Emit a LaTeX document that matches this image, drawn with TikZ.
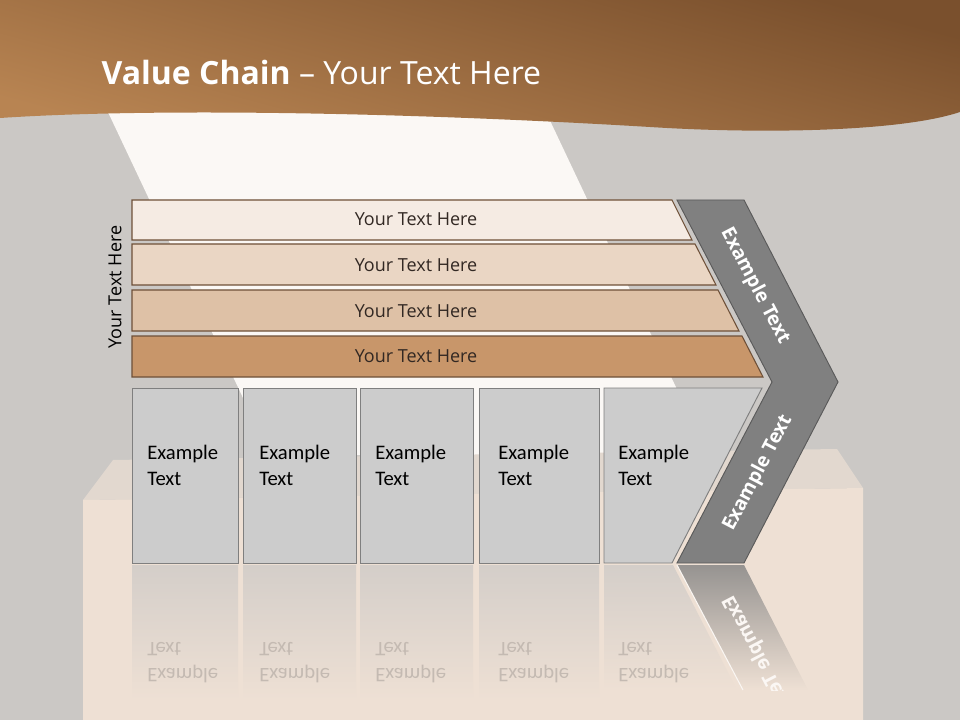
\documentclass[tikz,border=0pt]{standalone}
\usepackage{fontspec}
\setmainfont{Open Sans}
\newfontfamily\calibrifont{Carlito}
\usepackage{tikz}
\usepackage{xcolor}
\definecolor{slidegray}{RGB}{203, 200, 197}
\definecolor{beamwhite}{RGB}{251, 248, 245}
\definecolor{boxfront}{RGB}{238, 224, 212}
\definecolor{boxtop}{RGB}{226, 216, 207}
\definecolor{banddark}{RGB}{122, 80, 45}
\definecolor{bandlight}{RGB}{184, 132, 82}
\definecolor{barone}{RGB}{245, 235, 227}
\definecolor{bartwo}{RGB}{234, 214, 196}
\definecolor{barthree}{RGB}{222, 193, 166}
\definecolor{barfour}{RGB}{200, 150, 106}
\definecolor{barline}{RGB}{110, 80, 56}
\definecolor{bartextcol}{RGB}{50, 40, 35}
\definecolor{cellfill}{RGB}{204, 204, 204}
\definecolor{cellline}{RGB}{127, 127, 127}
\definecolor{chevfill}{RGB}{128, 128, 128}
\definecolor{chevline}{RGB}{90, 90, 90}
\definecolor{mirrortext}{RGB}{196, 186, 178}
\definecolor{mirrortop}{RGB}{212, 206, 201}
\usetikzlibrary{positioning}

\begin{document}
\begin{tikzpicture}[x=0.75pt, y=-0.75pt,
    bar/.style={draw=barline, line width=0.8pt},
    bartext/.style={font=\fontsize{13.5}{16}\selectfont, text=bartextcol},
    cell/.style={draw=cellline, fill=cellfill, line width=0.7pt},
    celltext/.style={font=\calibrifont\fontsize{15.5}{19.5}\selectfont, align=left, anchor=west, inner sep=0pt},
    mirrorcell/.style={top color=mirrortop, bottom color=boxfront},
    mirrorlabel/.style={font=\calibrifont\fontsize{15.5}{19.5}\selectfont, text=mirrortext, anchor=west, inner sep=0pt},
    chevtext/.style={font=\bfseries\fontsize{14.5}{17}\selectfont, text=white, inner sep=0pt}]
    \useasboundingbox (0, 0) rectangle (960, 720);

    % Backdrop: gray wall, light beam and box
    \fill[slidegray] (0, 0) rectangle (960, 720);
    \fill[beamwhite] (107, 110) -- (545, 110) -- (708, 455) -- (270, 455) -- cycle;
    \fill[boxtop] (83, 500) -- (113, 460) -- (837, 449) -- (863, 488) -- cycle;
    \fill[boxfront] (83, 500) -- (863, 488) -- (863, 720) -- (83, 720) -- cycle;

    % Title band
    \shade[top color=banddark, bottom color=bandlight, shading angle=-15]
        (0, 0) -- (960, 0) -- (960, 112)
        .. controls (900, 132) and (760, 134) .. (650, 127)
        .. controls (400, 112) and (150, 108) .. (0, 118) -- cycle;
    \node[anchor=base west, text=white, font=\fontsize{24}{28}\selectfont] (title) at (97, 85)
        {\textbf{Value Chain} – Your Text Here};

    % Bars
    \draw[bar, fill=barone] (132, 200) -- (672, 200) -- (692, 240) -- (132, 240) -- cycle;
    \draw[bar, fill=bartwo] (132, 244) -- (695, 244) -- (716, 285) -- (132, 285) -- cycle;
    \draw[bar, fill=barthree] (132, 290) -- (718, 290) -- (739, 331) -- (132, 331) -- cycle;
    \draw[bar, fill=barfour] (132, 336) -- (742, 336) -- (763, 377) -- (132, 377) -- cycle;
    \node[bartext] (barA) at (416, 219) {Your Text Here};
    \node[bartext] (barB) at (416, 265) {Your Text Here};
    \node[bartext] (barC) at (416, 311) {Your Text Here};
    \node[bartext] (barD) at (416, 356) {Your Text Here};
    \node[bartext, text=black, rotate=90] (sidelabel) at (115, 287) {Your Text Here};

    % Chevron
    \draw[fill=chevfill, draw=chevline, line width=0.7pt]
        (677, 200) -- (744, 200) -- (838, 382) -- (744, 563) -- (677, 563) -- (772, 382) -- cycle;
    \node[chevtext, rotate=-62.4] (chevtop) at (755, 286) {Example Text};
    \node[chevtext, rotate=62.4] (chevbottom) at (758, 473) {Example Text};

    % Cells
    \draw[cell] (132, 388) rectangle (238, 563);
    \draw[cell] (243, 388) rectangle (356, 563);
    \draw[cell] (360, 388) rectangle (473, 563);
    \draw[cell] (479, 388) rectangle (599, 563);
    \draw[cell] (604, 388) -- (762, 388) -- (672, 563) -- (604, 563) -- cycle;
    \node[celltext] (cellA) at (147, 465) {Example\\Text};
    \node[celltext] (cellB) at (259, 465) {Example\\Text};
    \node[celltext] (cellC) at (375, 465) {Example\\Text};
    \node[celltext] (cellD) at (498, 465) {Example\\Text};
    \node[celltext] (cellE) at (618, 465) {Example\\Text};

    % Reflection
    \shade[mirrorcell] (132, 565) rectangle (238, 700);
    \shade[mirrorcell] (243, 565) rectangle (356, 700);
    \shade[mirrorcell] (360, 565) rectangle (473, 700);
    \shade[mirrorcell] (479, 565) rectangle (599, 700);
    \shade[mirrorcell] (604, 565) -- (673, 565) -- (737, 690) -- (604, 690) -- cycle;
    \node[mirrorlabel] (mirrorA) at (147, 661)
        {\scalebox{1}[-1]{\begin{tabular}{@{}l@{}}Example\\Text\end{tabular}}};
    \node[mirrorlabel] (mirrorB) at (259, 661)
        {\scalebox{1}[-1]{\begin{tabular}{@{}l@{}}Example\\Text\end{tabular}}};
    \node[mirrorlabel] (mirrorC) at (375, 661)
        {\scalebox{1}[-1]{\begin{tabular}{@{}l@{}}Example\\Text\end{tabular}}};
    \node[mirrorlabel] (mirrorD) at (498, 661)
        {\scalebox{1}[-1]{\begin{tabular}{@{}l@{}}Example\\Text\end{tabular}}};
    \node[mirrorlabel] (mirrorE) at (618, 661)
        {\scalebox{1}[-1]{\begin{tabular}{@{}l@{}}Example\\Text\end{tabular}}};
    \begin{scope}
        \clip (677, 565) -- (744, 565) -- (808, 690) -- (743, 690) -- cycle;
        \shade[top color=chevfill!80!boxfront, bottom color=boxfront]
            (677, 565) rectangle (808, 690);
        \node[chevtext, text=white!75!boxfront, rotate=-62.4] (mirrorchev) at (758, 653)
            {\scalebox{1}[-1]{Example Text}};
    \end{scope}
    \draw[white!70!boxfront, line width=0.8pt] (677, 565) -- (743, 690);
\end{tikzpicture}
\end{document}
